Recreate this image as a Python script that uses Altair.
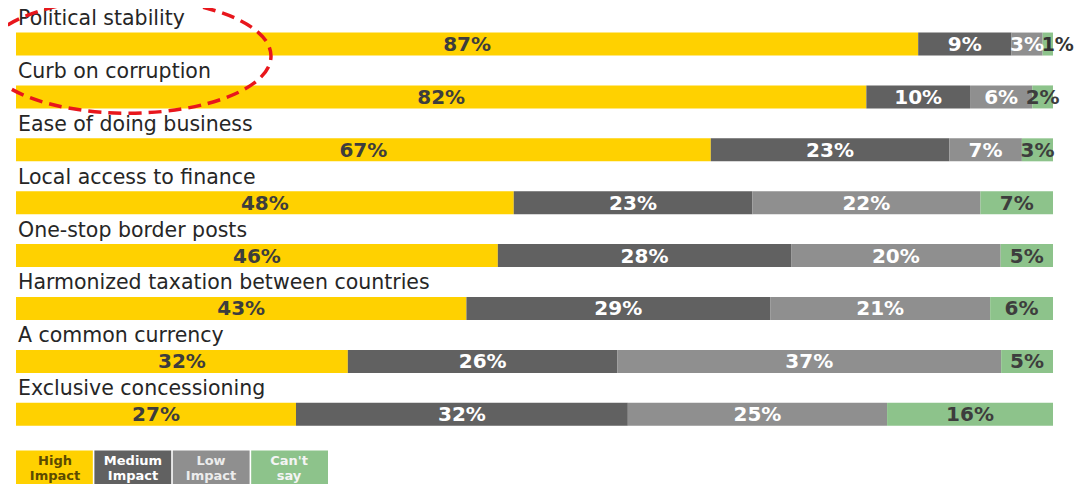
import altair as alt
import pandas as pd

categories = ["Political stability", "Curb on corruption", "Ease of doing business",
              "Local access to finance", "One-stop border posts",
              "Harmonized taxation between countries", "A common currency",
              "Exclusive concessioning"]
levels = ["High Impact", "Medium Impact", "Low Impact", "Can't say"]
high = [87, 82, 67, 48, 46, 43, 32, 27]
medium = [9, 10, 23, 23, 28, 29, 26, 32]
low = [3, 6, 7, 22, 20, 21, 37, 25]
cant_say = [1, 2, 3, 7, 5, 6, 5, 16]
legend_text = ["High\nImpact", "Medium\nImpact", "Low\nImpact", "Can't\nsay"]

fill_colors = ["#FFD100", "#616161", "#8f8f8f", "#8dc38b"]
text_colors = ["#3d3d3d", "#ffffff", "#ffffff", "#3d3d3d"]
legend_text_colors = ["#5c4b00", "#ffffff", "#ececec", "#f4f4f4"]

rows = []
for i, cat in enumerate(categories):
    vals = [high[i], medium[i], low[i], cant_say[i]]
    total = sum(vals)
    start = 0.0
    for lev, v in zip(levels, vals):
        frac = v / total
        rows.append({"category": cat, "level": lev, "value": v,
                     "start": start, "end": start + frac,
                     "mid": start + frac / 2, "label": f"{v}%"})
        start += frac
df = pd.DataFrame(rows)

LEGEND_ROW = "legend"
y_domain = categories + [LEGEND_ROW]
yscale = alt.Scale(domain=y_domain, paddingInner=0, paddingOuter=0)
xscale = alt.Scale(domain=[0, 1], nice=False)

base = alt.Chart(df)
Y = alt.Y("category:N", scale=yscale, axis=None)

bars = base.mark_bar(size=23, yOffset=9.6).encode(
    x=alt.X("start:Q", scale=xscale, axis=None),
    x2="end:Q",
    y=Y,
    color=alt.Color("level:N", scale=alt.Scale(domain=levels, range=fill_colors), legend=None),
)

pct = base.transform_filter("datum.end - datum.start >= 0.015").mark_text(
    font="DejaVu Sans", fontWeight="bold", fontSize=20, yOffset=10.5, baseline="middle", align="center"
).encode(
    x=alt.X("mid:Q", scale=xscale, axis=None),
    y=Y,
    text="label:N",
    color=alt.Color("level:N", scale=alt.Scale(domain=levels, range=text_colors), legend=None),
)

pct_small = base.transform_filter("datum.end - datum.start < 0.015").mark_text(
    font="DejaVu Sans", fontWeight="bold", fontSize=19, yOffset=10.5, baseline="middle", align="left", dx=-1
).encode(
    x=alt.X("start:Q", scale=xscale, axis=None),
    y=Y,
    text="label:N",
    color=alt.value("#333333"),
)

cat_labels = alt.Chart(pd.DataFrame({"category": categories})).mark_text(
    align="left", baseline="middle", font="DejaVu Sans", fontSize=20.5, color="#262626", yOffset=-15.5
).encode(
    x=alt.value(2),
    y=alt.Y("category:N", scale=yscale, axis=None),
    text="category:N",
)

legend_df = pd.DataFrame({"level": levels, "text": legend_text, "row": [LEGEND_ROW] * 4})
lx = alt.X("level:N", scale=alt.Scale(domain=levels, range=[0, 312], paddingInner=0.02, paddingOuter=0), axis=None)
ly = alt.Y("row:N", scale=yscale, axis=None)

legend_boxes = alt.Chart(legend_df).mark_rect(height=34, yOffset=10).encode(
    x=lx, y=ly,
    color=alt.Color("level:N", scale=alt.Scale(domain=levels, range=fill_colors), legend=None),
)
legend_txt = alt.Chart(legend_df).mark_text(
    lineBreak="\n", font="DejaVu Sans", fontWeight="bold", fontSize=13, lineHeight=15,
    yOffset=3, baseline="middle", align="center"
).encode(
    x=lx, y=ly, text="text:N",
    color=alt.Color("level:N", scale=alt.Scale(domain=levels, range=legend_text_colors), legend=None),
)

ellipse_path = "M -1 0 A 1 0.4 0 1 1 1 0 A 1 0.4 0 1 1 -1 0 Z"
ellipse = alt.Chart(pd.DataFrame({"a": [0]})).mark_point(
    shape=ellipse_path, size=81796, filled=False, stroke="#e8161c",
    strokeWidth=3.5, strokeDash=[13, 7], opacity=1
).encode(x=alt.value(112), y=alt.value(48))

chart = alt.layer(bars, pct, pct_small, cat_labels, legend_boxes, legend_txt, ellipse).resolve_scale(
    x="independent", color="independent"
).properties(
    width=1037, height=476,
    autosize=alt.AutoSizeParams(type="none"),
    padding={"left": 8, "top": 0, "right": 22, "bottom": 0},
    background="white",
).configure_view(stroke=None)

chart.save("out.html", embed_options={"renderer": "svg", "actions": False})
